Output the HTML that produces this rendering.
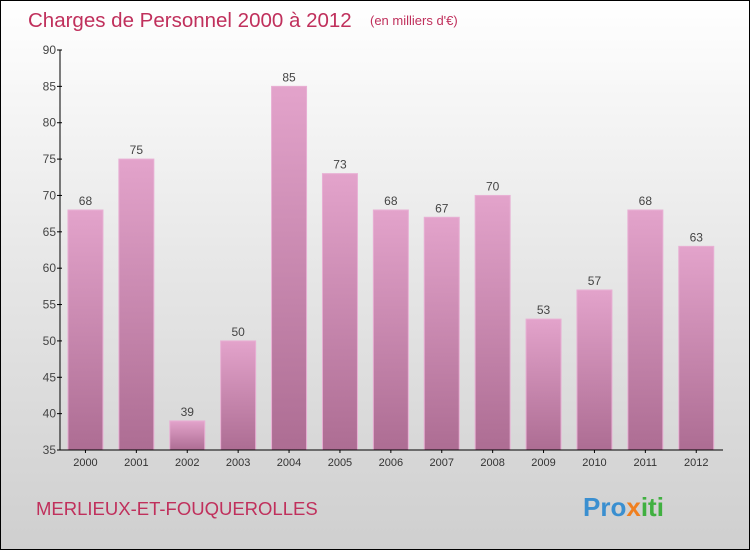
<!DOCTYPE html>
<html><head><meta charset="utf-8"><style>
body{margin:0;width:750px;height:550px;overflow:hidden;font-family:"Liberation Sans",sans-serif}
#wrap{position:relative;width:748px;height:548px;border:1px solid #000;background:linear-gradient(#ffffff,#e6e6e6 50%,#cfcfcf)}
</style></head><body>
<div id="wrap">
<svg id="chart" width="748" height="548">
<defs><linearGradient id="bg" x1="0" y1="0" x2="0" y2="1"><stop offset="0" stop-color="#e3a3cb"/><stop offset="1" stop-color="#ad6d93"/></linearGradient></defs>
<text x="27" y="26" font-size="20.5" fill="#c0305c">Charges de Personnel 2000 à 2012</text>
<text x="369" y="24" font-size="13" fill="#c0305c">(en milliers d'€)</text>
<text x="35" y="514" font-size="18.5" fill="#c0305c">MERLIEUX-ET-FOUQUEROLLES</text>
<text x="582" y="515" font-size="26" font-weight="bold" fill="#3a8fd0">Pro<tspan fill="#f08020">x</tspan><tspan fill="#40b040">iti</tspan></text>
<g id="plot"></g>
</svg></div>
<script>
const years=["2000","2001","2002","2003","2004","2005","2006","2007","2008","2009","2010","2011","2012"];
const values=[68,75,39,50,85,73,68,67,70,53,57,68,63];
const yTicks=[35,40,45,50,55,60,65,70,75,80,85,90];
const ns="http://www.w3.org/2000/svg";
const g=document.getElementById('plot');
const x0=59,band=50.9,yMin=35,yMax=90,yTop=49,yBot=449;
const y=v=>yBot-(v-yMin)/(yMax-yMin)*(yBot-yTop);
const xc=i=>x0+band*(i+0.5);
function mk(t,a){const e=document.createElementNS(ns,t);for(const k in a)e.setAttribute(k,a[k]);g.appendChild(e);return e;}
values.forEach((v,i)=>{
 const r=mk('rect',{x:xc(i)-17.5,y:y(v),width:35,height:yBot-y(v),fill:'url(#bg)',stroke:'#e8b0d4','stroke-width':1});
 
 
 const t=mk('text',{x:xc(i),y:y(v)-5,'text-anchor':'middle','font-size':12,fill:'#444'});t.textContent=v;
 
 
 const xl=mk('text',{x:xc(i),y:yBot+16,'text-anchor':'middle','font-size':11,fill:'#333'});xl.textContent=years[i];
 
 
 mk('line',{x1:xc(i),x2:xc(i),y1:yBot,y2:yBot+3,stroke:'#000'});
});
yTicks.forEach(v=>{
 mk('line',{x1:x0-3,x2:x0+2,y1:y(v),y2:y(v),stroke:'#000'});
 const t=mk('text',{x:x0-4,y:y(v)+4,'text-anchor':'end','font-size':12,fill:'#444'});t.textContent=v;
 
 
});
const ya=mk('line',{x1:x0,x2:x0,y1:yTop,y2:yBot,stroke:'#000'});


const xa=mk('line',{x1:x0,x2:722,y1:yBot,y2:yBot,stroke:'#000'});


</script>
</body></html>
